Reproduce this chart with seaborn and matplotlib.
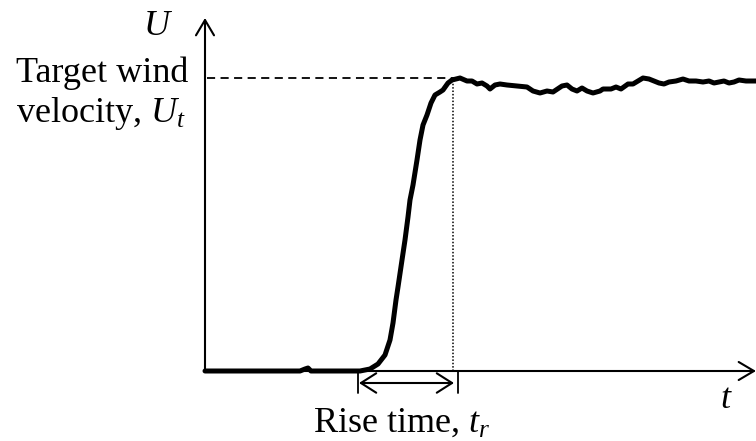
import matplotlib

matplotlib.use("Agg")
import matplotlib.pyplot as plt
import seaborn as sns

sns.set_style("white")
plt.rcParams["font.family"] = ["Liberation Serif", "DejaVu Serif"]
plt.rcParams["text.color"] = "black"
plt.rcParams["mathtext.fontset"] = "custom"
plt.rcParams["mathtext.rm"] = "Liberation Serif"
plt.rcParams["mathtext.it"] = "Liberation Serif:italic"

# time (arbitrary units) and wind velocity (arbitrary units)
time = [0, 95, 100, 103, 106, 155, 165, 173, 180, 185, 188, 191, 193, 197, 200,
        203, 205, 208, 212, 215, 218, 222, 226, 230, 235, 238, 243, 247, 255,
        262, 267, 272, 277, 282, 285, 290, 295, 302, 312, 322, 328, 335, 342,
        348, 357, 362, 367, 372, 377, 382, 388, 395, 398, 403, 406, 411, 416,
        423, 428, 433, 438, 444, 449, 454, 459, 464, 471, 478, 484, 491, 498,
        504, 509, 514, 519, 524, 529, 534, 541, 551]
velocity = [0, 0, 2, 3, 0, 0, 2, 7, 16, 31, 48, 71, 84, 111, 131,
            154, 171, 186, 211, 231, 246, 256, 268, 276, 279, 281, 288, 291, 293,
            290, 290, 287, 288, 285, 282, 286, 287, 286, 285, 284, 280, 278, 280,
            279, 285, 286, 282, 280, 283, 280, 278, 280, 282, 282, 282, 284, 282,
            287, 287, 290, 293, 292, 290, 288, 287, 289, 290, 292, 290, 290, 289,
            290, 288, 289, 290, 288, 289, 291, 290, 290]

target_velocity = 293
rise_start = 149
rise_end = 249
t_max = 551
u_max = 353

fig = plt.figure(figsize=(7.56, 4.41), dpi=100)
ax = fig.add_axes([0, 0, 1, 1])
ax.set_xlim(-205, 551)
ax.set_ylim(-70, 371)
ax.axis("off")

# axes with open arrow heads
head = "->,head_length=1.1,head_width=0.65"
ax.annotate("", xy=(t_max, 0), xytext=(0, 0),
            arrowprops=dict(arrowstyle=head, lw=1.5, color="black",
                            mutation_scale=10, shrinkA=0, shrinkB=0))
ax.annotate("", xy=(0, u_max), xytext=(0, 0),
            arrowprops=dict(arrowstyle=head, lw=1.5, color="black",
                            mutation_scale=10, shrinkA=0, shrinkB=0))

# target level and end of rise
ax.plot([2, rise_end], [target_velocity, target_velocity], color="black",
        lw=1.3, dashes=(4.5, 3))
ax.plot([rise_end - 1, rise_end - 1], [0, target_velocity - 4], color="black",
        lw=1.1, ls=(0, (1, 1.2)))

sns.lineplot(x=time, y=velocity, color="black", lw=3.6, ax=ax)

# rise time marker
for tx in [rise_start + 4, rise_end + 4]:
    ax.plot([tx, tx], [0, -22], color="black", lw=1.3)
ax.annotate("", xy=(rise_end, -12), xytext=(rise_start + 5, -12),
            arrowprops=dict(arrowstyle="<->,head_length=1.1,head_width=0.7",
                            lw=1.5, color="black", mutation_scale=10,
                            shrinkA=0, shrinkB=0))

fs = 26
ax.text(-32, 336, "$U$", fontsize=fs, ha="right", va="baseline")
ax.text(-17, 289, "Target wind", fontsize=fs, ha="right", va="baseline")
ax.text(-19, 249, "velocity, $U_t$", fontsize=fs, ha="right", va="baseline")
ax.text(108, -61, "Rise time, $t_r$", fontsize=fs, ha="left", va="baseline")
ax.text(515, -37, "$t$", fontsize=fs, ha="left", va="baseline")

fig.savefig("out.png", dpi=100)
